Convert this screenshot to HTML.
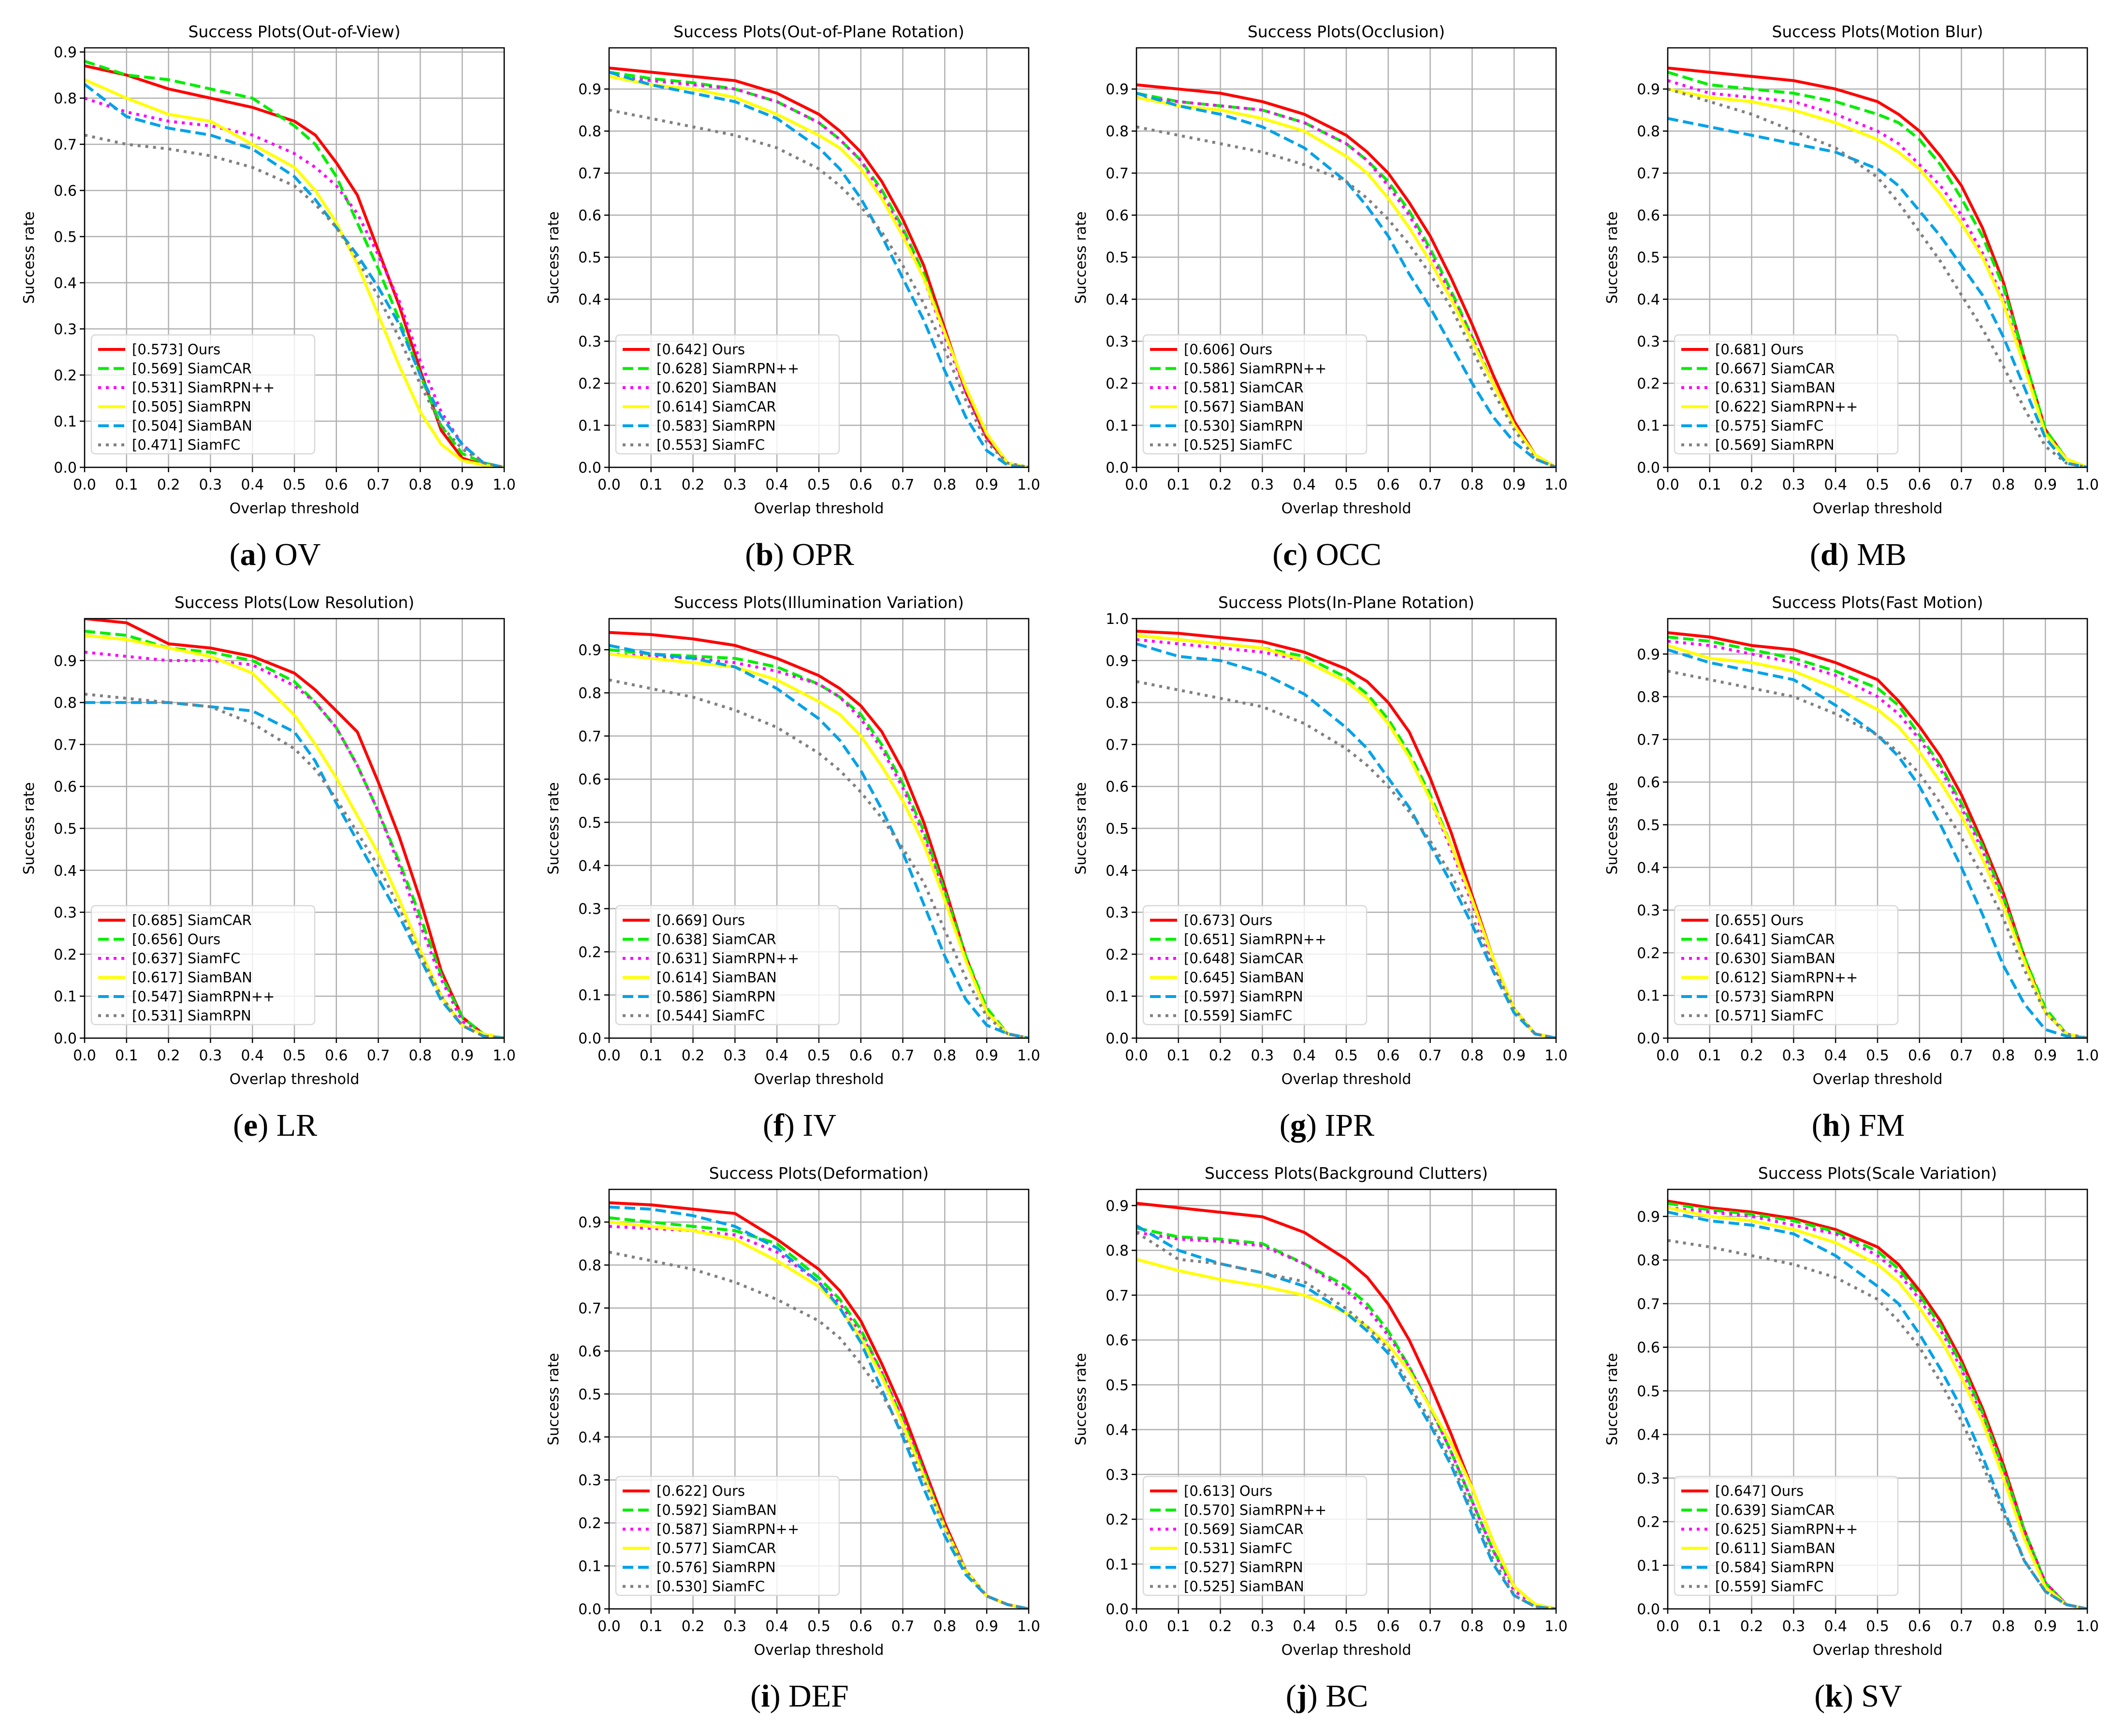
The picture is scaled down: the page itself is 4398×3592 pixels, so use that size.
<!DOCTYPE html>
<html><head><meta charset="utf-8">
<style>
html,body{margin:0;padding:0;background:#fff;}
svg{display:block;}
</style></head>
<body>
<svg id="fig" xmlns="http://www.w3.org/2000/svg" width="4398" height="3592" viewBox="0 0 4398 3592"></svg>
<script>
// shared x samples (overlap threshold)
const xs = [0,0.1,0.2,0.3,0.4,0.5,0.55,0.6,0.65,0.7,0.75,0.8,0.85,0.9,0.95,1.0];
const xTicks = ["0.0","0.1","0.2","0.3","0.4","0.5","0.6","0.7","0.8","0.9","1.0"];
const yTicksA = ["0.0","0.1","0.2","0.3","0.4","0.5","0.6","0.7","0.8","0.9"];
const yTicksB = ["0.0","0.1","0.2","0.3","0.4","0.5","0.6","0.7","0.8","0.9","1.0"];

// (a) OV
const ovNames = ["[0.573] Ours","[0.569] SiamCAR","[0.531] SiamRPN++","[0.505] SiamRPN","[0.504] SiamBAN","[0.471] SiamFC"];
const ov1 = [.87,.85,.82,.80,.78,.75,.72,.66,.59,.47,.35,.21,.08,.02,.005,0];
const ov2 = [.88,.85,.84,.82,.80,.74,.70,.63,.53,.43,.32,.20,.09,.03,.01,0];
const ov3 = [.80,.77,.75,.74,.72,.68,.65,.61,.55,.46,.36,.23,.12,.05,.01,0];
const ov4 = [.84,.80,.765,.75,.70,.65,.60,.53,.44,.33,.22,.12,.05,.015,.005,0];
const ov5 = [.83,.76,.735,.72,.69,.63,.58,.52,.46,.39,.31,.20,.11,.05,.01,0];
const ov6 = [.72,.70,.69,.675,.65,.61,.57,.52,.45,.37,.28,.18,.09,.04,.01,0];
// (b) OPR
const oprNames = ["[0.642] Ours","[0.628] SiamRPN++","[0.620] SiamBAN","[0.614] SiamCAR","[0.583] SiamRPN","[0.553] SiamFC"];
const opr1 = [.95,.94,.93,.92,.89,.84,.80,.75,.68,.59,.48,.33,.18,.07,.01,0];
const opr2 = [.94,.925,.915,.90,.87,.82,.78,.73,.66,.57,.46,.32,.19,.08,.01,0];
const opr3 = [.93,.92,.91,.90,.87,.82,.78,.73,.65,.56,.45,.31,.18,.07,.01,0];
const opr4 = [.93,.91,.90,.88,.84,.79,.76,.71,.64,.55,.45,.32,.19,.08,.01,0];
const opr5 = [.94,.91,.89,.87,.83,.76,.71,.64,.55,.45,.35,.23,.12,.04,.005,0];
const opr6 = [.85,.83,.81,.79,.76,.71,.67,.62,.56,.48,.39,.28,.16,.06,.01,0];
// (c) OCC
const occNames = ["[0.606] Ours","[0.586] SiamRPN++","[0.581] SiamCAR","[0.567] SiamBAN","[0.530] SiamRPN","[0.525] SiamFC"];
const occ1 = [.91,.90,.89,.87,.84,.79,.75,.70,.63,.55,.45,.34,.22,.11,.03,0];
const occ2 = [.89,.87,.86,.85,.82,.77,.73,.68,.61,.52,.42,.31,.20,.10,.03,0];
const occ3 = [.88,.87,.86,.85,.82,.77,.73,.67,.60,.51,.41,.31,.20,.10,.03,0];
const occ4 = [.88,.86,.85,.83,.80,.74,.70,.64,.57,.49,.40,.30,.20,.10,.03,0];
const occ5 = [.89,.86,.84,.81,.76,.68,.62,.55,.46,.38,.29,.20,.12,.06,.02,0];
const occ6 = [.81,.79,.77,.75,.72,.68,.64,.59,.53,.46,.38,.28,.18,.09,.02,0];
// (d) MB
const mbNames = ["[0.681] Ours","[0.667] SiamCAR","[0.631] SiamBAN","[0.622] SiamRPN++","[0.575] SiamFC","[0.569] SiamRPN"];
const mb1 = [.95,.94,.93,.92,.90,.87,.84,.80,.74,.67,.57,.44,.26,.09,.02,0];
const mb2 = [.94,.91,.90,.89,.87,.84,.82,.78,.72,.64,.55,.43,.26,.09,.02,0];
const mb3 = [.92,.89,.88,.87,.84,.80,.77,.72,.67,.60,.51,.40,.24,.08,.02,0];
const mb4 = [.90,.88,.87,.85,.82,.78,.75,.71,.65,.58,.50,.39,.24,.08,.02,0];
const mb5 = [.83,.81,.79,.77,.75,.71,.67,.61,.55,.48,.41,.31,.19,.07,.01,0];
const mb6 = [.90,.87,.84,.80,.76,.69,.63,.56,.49,.41,.33,.24,.14,.05,.01,0];
// (e) LR
const lrNames = ["[0.685] SiamCAR","[0.656] Ours","[0.637] SiamFC","[0.617] SiamBAN","[0.547] SiamRPN++","[0.531] SiamRPN"];
const lr1 = [1.0,.99,.94,.93,.91,.87,.83,.78,.73,.61,.48,.33,.16,.05,.01,0];
const lr2 = [.97,.96,.93,.92,.90,.85,.80,.74,.65,.54,.42,.29,.15,.05,.01,0];
const lr3 = [.92,.91,.90,.90,.89,.84,.80,.74,.65,.54,.41,.27,.14,.04,.01,0];
const lr4 = [.96,.95,.93,.91,.87,.77,.70,.62,.53,.44,.33,.21,.10,.03,.01,0];
const lr5 = [.80,.80,.80,.79,.78,.73,.66,.56,.47,.38,.29,.19,.09,.03,.005,0];
const lr6 = [.82,.81,.80,.79,.75,.69,.64,.57,.49,.41,.31,.20,.10,.03,.005,0];
// (f) IV
const ivNames = ["[0.669] Ours","[0.638] SiamCAR","[0.631] SiamRPN++","[0.614] SiamBAN","[0.586] SiamRPN","[0.544] SiamFC"];
const iv1 = [.94,.935,.925,.91,.88,.84,.81,.77,.71,.62,.50,.35,.19,.06,.01,0];
const iv2 = [.90,.89,.885,.88,.86,.82,.79,.75,.68,.59,.48,.34,.19,.07,.01,0];
const iv3 = [.89,.885,.88,.87,.85,.82,.79,.74,.67,.58,.47,.33,.18,.06,.01,0];
const iv4 = [.89,.88,.87,.86,.83,.78,.75,.70,.63,.55,.45,.32,.18,.06,.01,0];
const iv5 = [.91,.89,.88,.86,.81,.74,.69,.62,.53,.43,.31,.19,.09,.03,.01,0];
const iv6 = [.83,.81,.79,.76,.72,.66,.62,.57,.51,.44,.36,.25,.14,.05,.01,0];
// (g) IPR
const iprNames = ["[0.673] Ours","[0.651] SiamRPN++","[0.648] SiamCAR","[0.645] SiamBAN","[0.597] SiamRPN","[0.559] SiamFC"];
const ipr1 = [.97,.965,.955,.945,.92,.88,.85,.80,.73,.62,.49,.34,.19,.07,.01,0];
const ipr2 = [.96,.95,.94,.93,.91,.86,.82,.76,.68,.58,.46,.33,.19,.07,.01,0];
const ipr3 = [.95,.94,.93,.92,.90,.85,.81,.75,.67,.57,.45,.32,.18,.07,.01,0];
const ipr4 = [.96,.95,.94,.93,.90,.85,.81,.75,.67,.57,.46,.33,.19,.07,.01,0];
const ipr5 = [.94,.91,.90,.87,.82,.74,.69,.62,.55,.46,.37,.27,.16,.06,.01,0];
const ipr6 = [.85,.83,.81,.79,.75,.69,.65,.60,.54,.47,.39,.29,.17,.07,.01,0];
// (h) FM
const fmNames = ["[0.655] Ours","[0.641] SiamCAR","[0.630] SiamBAN","[0.612] SiamRPN++","[0.573] SiamRPN","[0.571] SiamFC"];
const fm1 = [.95,.94,.92,.91,.88,.84,.79,.73,.66,.57,.46,.34,.19,.06,.01,0];
const fm2 = [.94,.93,.91,.89,.86,.82,.78,.71,.64,.55,.45,.33,.19,.07,.01,0];
const fm3 = [.93,.92,.90,.88,.85,.80,.76,.70,.63,.54,.44,.32,.18,.06,.01,0];
const fm4 = [.92,.89,.88,.86,.82,.77,.73,.67,.60,.52,.42,.31,.18,.06,.01,0];
const fm5 = [.91,.88,.86,.84,.78,.71,.66,.59,.50,.40,.29,.17,.08,.02,.005,0];
const fm6 = [.86,.84,.82,.80,.76,.71,.67,.62,.55,.47,.38,.28,.16,.06,.01,0];
// (i) DEF
const defNames = ["[0.622] Ours","[0.592] SiamBAN","[0.587] SiamRPN++","[0.577] SiamCAR","[0.576] SiamRPN","[0.530] SiamFC"];
const def1 = [.945,.94,.93,.92,.86,.79,.74,.67,.57,.46,.33,.20,.09,.03,.01,0];
const def2 = [.91,.90,.89,.88,.85,.77,.72,.65,.55,.44,.32,.19,.09,.03,.01,0];
const def3 = [.89,.885,.88,.87,.83,.76,.71,.64,.55,.44,.32,.19,.09,.03,.01,0];
const def4 = [.90,.89,.88,.86,.81,.75,.70,.63,.54,.43,.31,.19,.09,.03,.01,0];
const def5 = [.935,.93,.915,.89,.84,.76,.70,.62,.51,.40,.28,.17,.08,.03,.01,0];
const def6 = [.83,.81,.79,.76,.72,.67,.63,.57,.50,.41,.30,.19,.09,.03,.01,0];
// (j) BC
const bcNames = ["[0.613] Ours","[0.570] SiamRPN++","[0.569] SiamCAR","[0.531] SiamFC","[0.527] SiamRPN","[0.525] SiamBAN"];
const bc1 = [.905,.895,.885,.875,.84,.78,.74,.68,.60,.50,.39,.27,.15,.05,.01,0];
const bc2 = [.85,.83,.825,.815,.77,.72,.68,.62,.54,.45,.35,.24,.13,.05,.01,0];
const bc3 = [.84,.825,.82,.81,.77,.71,.67,.61,.54,.45,.35,.24,.13,.04,.01,0];
const bc4 = [.78,.755,.735,.72,.70,.66,.63,.59,.53,.45,.37,.27,.15,.05,.01,0];
const bc5 = [.855,.80,.77,.75,.72,.66,.62,.57,.49,.41,.32,.21,.10,.03,.005,0];
const bc6 = [.84,.78,.77,.75,.73,.67,.63,.58,.50,.42,.33,.22,.11,.03,.005,0];
// (k) SV
const svNames = ["[0.647] Ours","[0.639] SiamCAR","[0.625] SiamRPN++","[0.611] SiamBAN","[0.584] SiamRPN","[0.559] SiamFC"];
const sv1 = [.935,.92,.91,.895,.87,.83,.79,.73,.66,.57,.46,.33,.18,.06,.01,0];
const sv2 = [.93,.915,.905,.89,.865,.82,.78,.72,.65,.56,.45,.32,.18,.06,.01,0];
const sv3 = [.92,.91,.90,.88,.86,.81,.77,.71,.64,.55,.44,.31,.17,.06,.01,0];
const sv4 = [.92,.90,.89,.87,.84,.79,.75,.69,.62,.53,.43,.30,.16,.05,.01,0];
const sv5 = [.91,.89,.88,.86,.81,.74,.70,.63,.55,.46,.35,.23,.11,.04,.01,0];
const sv6 = [.845,.83,.81,.79,.76,.71,.66,.60,.52,.43,.33,.22,.11,.04,.01,0];

const NS = "http://www.w3.org/2000/svg";
const svg = document.getElementById('fig');
const colors = ["#ff0000","#00ee00","#ff00ff","#ffff00","#00a2e8","#808080"];
const dashes = ["none","22,10","6,10","none","22,10","6,10"];
const FONT = '"DejaVu Sans","Liberation Sans",sans-serif';

function mk(tag, attrs, parent){
  const e = document.createElementNS(NS, tag);
  for (const k in attrs) e.setAttribute(k, attrs[k]);
  (parent||svg).appendChild(e);
  return e;
}

const panels = [
  {id:"ov", title:"Success Plots(Out-of-View)", cap:"a", abbr:"OV", col:0,row:0, ymax:0.909, yt:yTicksA, names:ovNames, s:[ov1,ov2,ov3,ov4,ov5,ov6]},
  {id:"opr", title:"Success Plots(Out-of-Plane Rotation)", cap:"b", abbr:"OPR", col:1,row:0, ymax:0.998, yt:yTicksA, names:oprNames, s:[opr1,opr2,opr3,opr4,opr5,opr6]},
  {id:"occ", title:"Success Plots(Occlusion)", cap:"c", abbr:"OCC", col:2,row:0, ymax:0.998, yt:yTicksA, names:occNames, s:[occ1,occ2,occ3,occ4,occ5,occ6]},
  {id:"mb", title:"Success Plots(Motion Blur)", cap:"d", abbr:"MB", col:3,row:0, ymax:0.998, yt:yTicksA, names:mbNames, s:[mb1,mb2,mb3,mb4,mb5,mb6]},
  {id:"lr", title:"Success Plots(Low Resolution)", cap:"e", abbr:"LR", col:0,row:1, ymax:1.0, yt:yTicksA, names:lrNames, s:[lr1,lr2,lr3,lr4,lr5,lr6]},
  {id:"iv", title:"Success Plots(Illumination Variation)", cap:"f", abbr:"IV", col:1,row:1, ymax:0.972, yt:yTicksA, names:ivNames, s:[iv1,iv2,iv3,iv4,iv5,iv6]},
  {id:"ipr", title:"Success Plots(In-Plane Rotation)", cap:"g", abbr:"IPR", col:2,row:1, ymax:1.0, yt:yTicksB, names:iprNames, s:[ipr1,ipr2,ipr3,ipr4,ipr5,ipr6]},
  {id:"fm", title:"Success Plots(Fast Motion)", cap:"h", abbr:"FM", col:3,row:1, ymax:0.983, yt:yTicksA, names:fmNames, s:[fm1,fm2,fm3,fm4,fm5,fm6]},
  {id:"def", title:"Success Plots(Deformation)", cap:"i", abbr:"DEF", col:1,row:2, ymax:0.976, yt:yTicksA, names:defNames, s:[def1,def2,def3,def4,def5,def6]},
  {id:"bc", title:"Success Plots(Background Clutters)", cap:"j", abbr:"BC", col:2,row:2, ymax:0.936, yt:yTicksA, names:bcNames, s:[bc1,bc2,bc3,bc4,bc5,bc6]},
  {id:"sv", title:"Success Plots(Scale Variation)", cap:"k", abbr:"SV", col:3,row:2, ymax:0.962, yt:yTicksA, names:svNames, s:[sv1,sv2,sv3,sv4,sv5,sv6]}
];
const colL = [175,1260,2351,3450];
const rowT = [99,1280,2461];
const W = 868, H = 868;

panels.forEach(p=>{
  const L = colL[p.col], T = rowT[p.row], B = T+H, R = L+W;
  const g = mk('g',{});
  
  
  const sx = v => L + v*W;
  const sy = v => B - v/p.ymax*H;
  // grid
  xTicks.forEach(t=>{
    const v=parseFloat(t);
    const ln = mk('line',{x1:sx(v),x2:sx(v),y1:T,y2:B,stroke:"#b0b0b0","stroke-width":2.5},g);
    
    
    mk('line',{x1:sx(v),x2:sx(v),y1:B,y2:B+10,stroke:"#000","stroke-width":2.5},g);
    const tx = mk('text',{x:sx(v),y:B+46,"text-anchor":"middle","font-size":30,"font-family":FONT,fill:"#000"},g);
    tx.textContent=t;
    
    
  });
  p.yt.forEach(t=>{
    const v=parseFloat(t);
    const ln = mk('line',{x1:L,x2:R,y1:sy(v),y2:sy(v),stroke:"#b0b0b0","stroke-width":2.5},g);
    
    
    mk('line',{x1:L-10,x2:L,y1:sy(v),y2:sy(v),stroke:"#000","stroke-width":2.5},g);
    const tx = mk('text',{x:L-16,y:sy(v)+11,"text-anchor":"end","font-size":30,"font-family":FONT,fill:"#000"},g);
    tx.textContent=t;
    
    
  });
  // clip
  const cp = mk('clipPath',{id:'clip-'+p.id},g);
  mk('rect',{x:L,y:T,width:W,height:H},cp);
  // series
  p.s.forEach((arr,i)=>{
    const d = arr.map((v,j)=>(j?'L':'M')+sx(xs[j]).toFixed(1)+','+sy(v).toFixed(1)).join(' ');
    const path = mk('path',{d:d,fill:"none",stroke:colors[i],"stroke-width":6,"stroke-dasharray":dashes[i],"stroke-linejoin":"round","clip-path":'url(#clip-'+p.id+')'},g);
    
    
  });
  // frame
  const fr = mk('rect',{x:L,y:T,width:W,height:H,fill:"none",stroke:"#000","stroke-width":2.5},g);
  
  
  // legend
  const lg = mk('g',{},g);
  
  
  const lx = L+14, ly = B-28-246;
  mk('rect',{x:lx,y:ly,width:462,height:246,rx:8,fill:"#fff","fill-opacity":0.8,stroke:"#d8d8d8","stroke-width":2.5},lg);
  p.names.forEach((n,i)=>{
    const yy = ly+30+i*39.5;
    const ln = mk('line',{x1:lx+14,x2:lx+70,y1:yy,y2:yy,stroke:colors[i],"stroke-width":6,"stroke-dasharray":dashes[i]},lg);
    
    
    const tx = mk('text',{x:lx+84,y:yy+10,"font-size":29,"font-family":FONT,fill:"#000"},lg);
    tx.textContent=n;
    
    
  });
  // title, axis labels
  const ti = mk('text',{x:L+W/2,y:T-22,"text-anchor":"middle","font-size":33,"font-family":FONT,fill:"#000"},g);
  ti.textContent = p.title;
  
  
  const xl = mk('text',{x:L+W/2,y:B+95,"text-anchor":"middle","font-size":30,"font-family":FONT,fill:"#000"},g);
  xl.textContent = "Overlap threshold";
  
  
  const yl = mk('text',{x:0,y:0,"text-anchor":"middle","font-size":30,"font-family":FONT,fill:"#000",transform:`translate(${L-105},${T+H/2}) rotate(-90)`},g);
  yl.textContent = "Success rate";
  
  
  // caption
  const cap = mk('text',{x:L+W/2-40,y:B+202,"text-anchor":"middle","font-size":66,"font-family":'"Liberation Serif",serif',fill:"#000"},g);
  cap.innerHTML = '(<tspan font-weight="bold">'+p.cap+'</tspan>) '+p.abbr;
  
  
});
</script>
</body></html>
